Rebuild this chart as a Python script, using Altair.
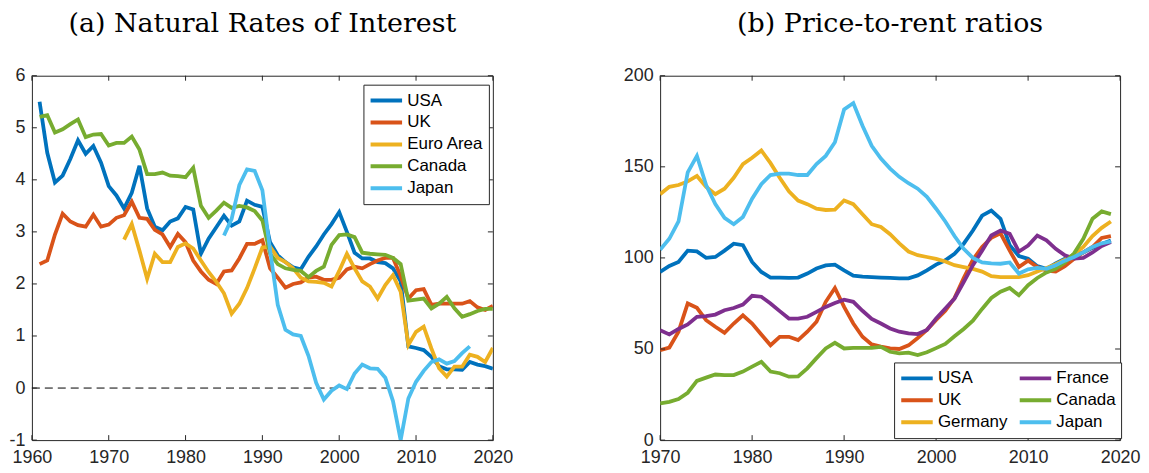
import altair as alt
import pandas as pd

# ---- panel (a): natural rates of interest ----
nri_years = list(range(1961, 2021))
nri_usa = [5.5, 4.52, 3.95, 4.08, 4.4, 4.76, 4.5, 4.65, 4.33, 3.88,
           3.7, 3.45, 3.75, 4.27, 3.45, 3.1, 3.03, 3.2, 3.26, 3.48,
           3.43, 2.58, 2.87, 3.09, 3.31, 3.12, 3.2, 3.6, 3.52, 3.48,
           2.8, 2.55, 2.42, 2.32, 2.28, 2.52, 2.72, 2.95, 3.15, 3.38,
           3.0, 2.6, 2.49, 2.49, 2.42, 2.4, 2.3, 2.05, 0.8, 0.77,
           0.73, 0.6, 0.42, 0.36, 0.36, 0.35, 0.5, 0.45, 0.42, 0.37]
nri_uk = [2.38, 2.45, 2.95, 3.35, 3.2, 3.13, 3.1, 3.33, 3.1, 3.14,
          3.27, 3.32, 3.58, 3.27, 3.25, 3.04, 2.95, 2.71, 2.96, 2.8,
          2.45, 2.24, 2.08, 2.0, 2.24, 2.26, 2.49, 2.77, 2.77, 2.84,
          2.3, 2.12, 1.93, 2.0, 2.03, 2.12, 2.14, 2.08, 2.08, 2.12,
          2.28, 2.33, 2.3, 2.38, 2.45, 2.5, 2.5, 2.15, 1.72, 1.88,
          1.9, 1.6, 1.62, 1.62, 1.62, 1.62, 1.67, 1.55, 1.5, 1.58]
nri_euro_years = list(range(1972, 2021))
nri_euro = [2.85, 3.15, 2.64, 2.1, 2.58, 2.42, 2.42, 2.71, 2.78, 2.68,
            2.45, 2.23, 2.04, 1.82, 1.43, 1.62, 1.92, 2.3, 2.7, 2.72,
            2.5, 2.42, 2.3, 2.12, 2.05, 2.04, 2.02, 1.95, 2.25, 2.58,
            2.3, 2.05, 1.95, 1.72, 1.98, 2.17, 1.85, 0.83, 1.08, 1.18,
            0.76, 0.38, 0.22, 0.41, 0.41, 0.64, 0.6, 0.5, 0.77]
nri_canada = [5.21, 5.24, 4.91, 4.97, 5.07, 5.16, 4.82, 4.87, 4.88, 4.66,
              4.71, 4.71, 4.83, 4.58, 4.11, 4.11, 4.14, 4.08, 4.07, 4.05,
              4.23, 3.5, 3.27, 3.41, 3.56, 3.46, 3.5, 3.47, 3.4, 3.22,
              2.58, 2.38, 2.3, 2.27, 2.25, 2.13, 2.25, 2.33, 2.75, 2.94,
              2.95, 2.9, 2.6, 2.58, 2.57, 2.56, 2.5, 2.38, 1.68, 1.7,
              1.72, 1.53, 1.62, 1.75, 1.53, 1.37, 1.42, 1.48, 1.52, 1.52]
nri_japan_years = list(range(1985, 2018))
nri_japan = [2.93, 3.25, 3.9, 4.2, 4.17, 3.8, 2.65, 1.6, 1.12, 1.03,
             1.0, 0.62, 0.1, -0.22, -0.05, 0.05, -0.02, 0.28, 0.45, 0.38,
             0.37, 0.2, -0.25, -1.0, -0.2, 0.12, 0.33, 0.5, 0.55, 0.47,
             0.52, 0.67, 0.8]

# ---- panel (b): price-to-rent ratios ----
ptr_years = list(range(1970, 2020))
ptr_usa = [92.3, 95.6, 97.8, 104, 103.6, 100, 100.5, 104, 107.8, 107,
           97.8, 92.3, 89.2, 89.2, 89, 89.2, 91.4, 94.2, 95.9, 96.3,
           93.2, 90.3, 89.7, 89.5, 89.2, 89, 88.8, 88.8, 90.4, 93.2,
           96.3, 98.7, 102.3, 107.8, 115, 123.2, 126, 121.5, 107, 101,
           99.5, 95.5, 94, 97, 99.6, 101.4, 103, 105.5, 107.6, 109.6]
ptr_uk = [49.4, 50.8, 59.5, 75, 72.6, 65.8, 62.2, 58.9, 64, 68.5,
          64, 58, 52.1, 56.7, 56.7, 54.9, 59.5, 65, 75.9, 83.5,
          73.1, 64, 56.7, 52.5, 51.3, 50.3, 50, 52, 56, 60.5,
          66, 71, 78, 89, 99, 106, 111, 113.5, 104, 95,
          98.5, 95, 93, 92.5, 95.5, 99.5, 103, 106, 111, 112]
ptr_germany = [135, 139, 140, 142, 145, 139, 135, 138, 144, 151.5,
               155, 159, 152, 144, 136.5, 131.5, 129.5, 127, 126.3, 126.5,
               131.5, 129.5, 124, 118.5, 117, 113, 108, 103.5, 101.5, 100.5,
               99.5, 98, 96, 95, 94, 92.5, 90, 89.5, 89.5, 89.5,
               90.5, 92.5, 94.5, 96.5, 99, 102, 106, 112, 116.5, 120]
ptr_france = [60.3, 58, 61, 63.5, 67.7, 68, 68.9, 71.3, 72.5, 74.4,
              79.2, 78.7, 75, 70.8, 66.7, 66.7, 67.7, 70.4, 73.1, 75.3,
              77.1, 75.9, 71, 66.5, 64, 61.3, 59.5, 58.6, 58.2, 60.5,
              66.7, 72.2, 77.7, 86.8, 96, 104, 112.3, 115, 113.2, 103.5,
              106.8, 112.3, 109.6, 105, 101.4, 99.6, 100, 103, 106.5, 108.7]
ptr_canada = [20.2, 21, 22.5, 26, 32.5, 34.3, 36, 35.7, 35.7, 37.6,
              40.3, 43, 37.6, 36.7, 34.8, 35, 39.4, 45, 50.3, 53.4,
              50.3, 50.6, 50.6, 50.6, 51.2, 48.5, 47.6, 48, 46.7, 48.2,
              50.5, 52.8, 57, 61, 65.5, 72, 78, 81.5, 83.5, 79.5,
              85, 89, 92, 94, 97.5, 102.5, 110.5, 121.5, 125.5, 124]
ptr_japan = [104.5, 110.5, 120, 147, 156, 140, 129.5, 122, 118.5, 122.5,
             132.5, 140.5, 145.5, 146.3, 146.3, 145.5, 145.5, 151.5, 156, 163.5,
             181.5, 185, 172.5, 161.5, 154.5, 149, 144.5, 141, 138, 133.5,
             127, 120, 112, 105, 100, 97.5, 97, 96.8, 97.5, 91.4,
             93.7, 94.5, 94, 96, 98.5, 100.5, 103, 106, 108, 109]

left_ticks_x = [1960, 1970, 1980, 1990, 2000, 2010, 2020]
left_ticks_y = [-1, 0, 1, 2, 3, 4, 5, 6]
right_ticks_x = [1970, 1980, 1990, 2000, 2010, 2020]
right_ticks_y = [0, 50, 100, 150, 200]

BLUE, ORANGE, YELLOW = "#0072BD", "#D95319", "#EDB120"
PURPLE, GREEN, CYAN = "#7E2F8E", "#77AC30", "#4DBEEE"
AX = "#262626"
H = 366


def long_df(series):
    rows = []
    for name, years, vals in series:
        for yr, v in zip(years, vals):
            rows.append({"year": yr, "value": v, "series": name})
    return pd.DataFrame(rows)


def inner_ticks(xs, ys, xdom, ydom, w, h):
    # MATLAB-style ticks pointing into the plot box, on all four sides
    xs_df = pd.DataFrame({"t": xs})
    ys_df = pd.DataFrame({"t": ys})
    xsc = alt.Scale(domain=xdom, nice=False, zero=False)
    ysc = alt.Scale(domain=ydom, nice=False, zero=False)
    style = dict(color=AX, strokeWidth=1)
    return [
        alt.Chart(xs_df).mark_rule(**style).encode(
            x=alt.X("t:Q", scale=xsc), y=alt.value(h), y2=alt.value(h - 5)),
        alt.Chart(xs_df).mark_rule(**style).encode(
            x=alt.X("t:Q", scale=xsc), y=alt.value(0), y2=alt.value(5)),
        alt.Chart(ys_df).mark_rule(**style).encode(
            y=alt.Y("t:Q", scale=ysc), x=alt.value(0), x2=alt.value(5)),
        alt.Chart(ys_df).mark_rule(**style).encode(
            y=alt.Y("t:Q", scale=ysc), x=alt.value(w), x2=alt.value(w - 5)),
    ]


def panel(df, domain, colors, xdom, ydom, xt, yt, legend, title, w, h, zero_line=False):
    axis_style = dict(ticks=False, domain=False, grid=False, title=None,
                      labelFontSize=18, labelFont="Liberation Sans",
                      labelColor=AX, labelExpr="datum.value")
    lines = alt.Chart(df).mark_line(strokeWidth=3.8, clip=True).encode(
        x=alt.X("year:Q", scale=alt.Scale(domain=xdom, nice=False, zero=False),
                axis=alt.Axis(values=xt, labelFlush=False, labelPadding=8, **axis_style)),
        y=alt.Y("value:Q", scale=alt.Scale(domain=ydom, nice=False, zero=False),
                axis=alt.Axis(values=yt, labelPadding=7, **axis_style)),
        color=alt.Color("series:N", scale=alt.Scale(domain=domain, range=colors),
                        sort=domain, legend=legend),
    )
    layers = []
    if zero_line:
        layers.append(alt.Chart(pd.DataFrame({"z": [0]})).mark_rule(
            color="black", strokeWidth=1, strokeDash=[8, 5]).encode(
            y=alt.Y("z:Q", scale=alt.Scale(domain=ydom, nice=False, zero=False))))
    layers.append(lines)
    layers += inner_ticks(xt, yt, xdom, ydom, w, h)
    return alt.layer(*layers).properties(
        width=w, height=h,
        title=alt.TitleParams(title, font="DejaVu Serif", fontSize=27,
                              fontWeight="normal", color="black",
                              anchor="middle", offset=29),
    )


legend_common = dict(title=None, symbolType="stroke", symbolStrokeWidth=4,
                     symbolSize=1000, clipHeight=22, labelFontSize=17,
                     labelFont="Liberation Sans", labelColor="black",
                     labelOffset=3, rowPadding=0, padding=5,
                     strokeColor=AX, fillColor="white", orient="none")

left_df = long_df([
    ("USA", nri_years, nri_usa),
    ("UK", nri_years, nri_uk),
    ("Euro Area", nri_euro_years, nri_euro),
    ("Canada", nri_years, nri_canada),
    ("Japan", nri_japan_years, nri_japan),
])
left = panel(left_df, ["USA", "UK", "Euro Area", "Canada", "Japan"],
             [BLUE, ORANGE, YELLOW, GREEN, CYAN],
             [1960, 2020], [-1, 6], left_ticks_x, left_ticks_y,
             alt.Legend(legendX=333, legendY=9, **legend_common),
             "(a) Natural Rates of Interest", 463, H, zero_line=True)

right_df = long_df([
    ("USA", ptr_years, ptr_usa),
    ("UK", ptr_years, ptr_uk),
    ("Germany", ptr_years, ptr_germany),
    ("France", ptr_years, ptr_france),
    ("Canada", ptr_years, ptr_canada),
    ("Japan", ptr_years, ptr_japan),
])
# legend fills column by column: USA/UK/Germany then France/Canada/Japan
right = panel(right_df, ["USA", "UK", "Germany", "France", "Canada", "Japan"],
              [BLUE, ORANGE, YELLOW, PURPLE, GREEN, CYAN],
              [1970, 2020], [0, 200], right_ticks_x, right_ticks_y,
              alt.Legend(legendX=235, legendY=288, columns=2, columnPadding=10,
                         **legend_common),
              "(b) Price-to-rent ratios", 462, H)

chart = alt.hconcat(left, right, spacing=109, padding=0).resolve_scale(
    color="independent", x="independent", y="independent"
).resolve_legend(color="independent").configure(
    background="white", padding=0
).configure_view(
    stroke=AX, strokeWidth=1
)

chart.save("out.html", embed_options={"renderer": "svg", "actions": False})
